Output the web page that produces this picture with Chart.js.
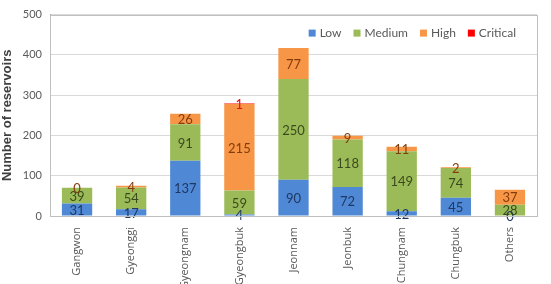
<!DOCTYPE html>
<html>
<head>
<meta charset="utf-8">
<script src="https://cdn.jsdelivr.net/npm/chart.js@4"></script>
<style>
  html, body { margin: 0; padding: 0; background: #fff; }
  #wrap { width: 551px; height: 284px; }
</style>
</head>
<body>
<div id="wrap"><canvas id="chart" width="551" height="284"></canvas></div>
<script>
// provinces
const regions = ['Gangwon', 'Gyeonggi', 'Gyeongnam', 'Gyeongbuk', 'Jeonnam', 'Jeonbuk', 'Chungnam', 'Chungbuk', 'Others'];

// reservoirs per risk grade
const low = [31, 17, 137, 4, 90, 72, 12, 45, 0];
const medium = [39, 54, 91, 59, 250, 118, 149, 74, 28];
const high = [0, 4, 26, 215, 77, 9, 11, 2, 37];
const critical = [null, null, null, 1, null, null, null, null, null];

const yTicks = [0, 100, 200, 300, 400, 500];

const labelColors = ['#1f3864', '#3b4a1c', '#843c0c', '#e01010'];
const FONT = 'Lato, "Open Sans", sans-serif';

// numbers drawn in the middle of each stacked piece
const segLabels = {
  id: 'segLabels',
  afterDatasetsDraw(chart) {
    const ctx = chart.ctx;
    ctx.save();
    ctx.font = '13px ' + FONT;
    ctx.textAlign = 'center';
    ctx.textBaseline = 'middle';
    chart.data.datasets.forEach((ds, i) => {
      const meta = chart.getDatasetMeta(i);
      meta.data.forEach((bar, j) => {
        const v = ds.data[j];
        if (v === null || v === undefined) return;
        const p = bar.getProps(['x', 'y', 'base'], true);
        ctx.fillStyle = labelColors[i];
        ctx.fillText(String(v), p.x, (p.y + p.base) / 2 + 1);
      });
    });
    ctx.restore();
  }
};

// box around the plot + legend in the top-right corner
const frame = {
  id: 'frame',
  afterDraw(chart) {
    const a = chart.chartArea;
    const ctx = chart.ctx;
    ctx.save();
    ctx.strokeStyle = '#bfbfbf';
    ctx.lineWidth = 1;
    ctx.strokeRect(Math.round(a.left) + 0.5, Math.round(a.top) + 0.5, Math.round(a.right - a.left), Math.round(a.bottom - a.top));

    ctx.font = '12px ' + FONT;
    ctx.textBaseline = 'middle';
    const items = chart.data.datasets.map(ds => ({ text: ds.label, color: ds.backgroundColor, w: ctx.measureText(ds.label).width }));
    const box = 7, gap = 4, sep = 12;
    let total = items.reduce((s, it) => s + box + gap + it.w, 0) + sep * (items.length - 1);
    let x = a.right - 21 - total;
    const y = a.top + 19;
    items.forEach(it => {
      ctx.fillStyle = it.color;
      ctx.fillRect(x, y - 4, box, box);
      ctx.fillStyle = '#595959';
      ctx.fillText(it.text, x + box + gap, y);
      x += box + gap + it.w + sep;
    });
    ctx.restore();
  }
};

new Chart(document.getElementById('chart'), {
  type: 'bar',
  data: {
    labels: regions,
    datasets: [
      { label: 'Low', data: low, backgroundColor: '#4f88d4' },
      { label: 'Medium', data: medium, backgroundColor: '#9bbb59' },
      { label: 'High', data: high, backgroundColor: '#f79646' },
      { label: 'Critical', data: critical, backgroundColor: '#ff0000' }
    ]
  },
  options: {
    responsive: false,
    animation: false,
    layout: { padding: { top: 11, right: 14, left: 0, bottom: 0 } },
    datasets: { bar: { barPercentage: 0.56, categoryPercentage: 1 } },
    plugins: {
      tooltip: { enabled: false },
      legend: { display: false }
    },
    scales: {
      x: {
        stacked: true,
        grid: { display: false },
        border: { color: '#a6a6a6' },
        ticks: {
          minRotation: 90,
          maxRotation: 90,
          color: '#595959',
          font: { family: '"Open Sans", sans-serif', size: 11 }
        },
        afterFit(scale) { scale.height = 68; }
      },
      y: {
        stacked: true,
        min: 0,
        max: 500,
        afterBuildTicks(scale) { scale.ticks = yTicks.map(v => ({ value: v })); },
        grid: { color: '#d9d9d9', drawTicks: false },
        border: { color: '#a6a6a6' },
        ticks: {
          padding: 8,
          color: '#595959',
          font: { family: FONT, size: 11 }
        },
        title: {
          display: true,
          text: 'Number of reservoirs',
          color: '#404040',
          font: { family: '"Liberation Sans", Arial, sans-serif', size: 13, weight: 'bold' },
          padding: { top: 0, bottom: 4 }
        },
        afterFit(scale) { scale.width = 50; }
      }
    }
  },
  plugins: [segLabels, frame]
});
</script>
</body>
</html>
